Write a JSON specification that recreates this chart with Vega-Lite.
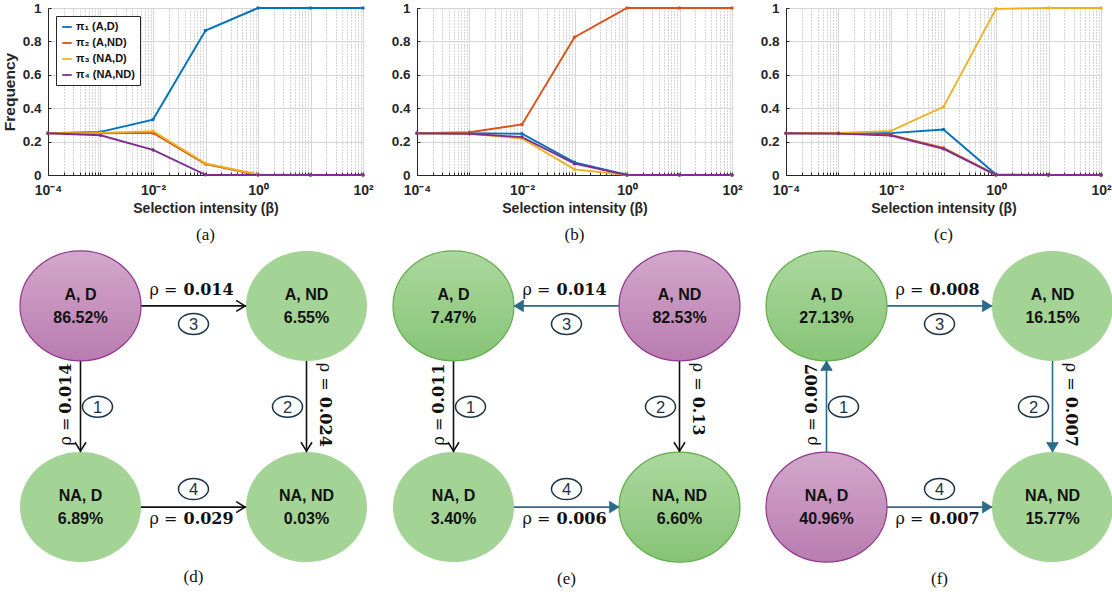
{
"$schema":"https://vega.github.io/schema/vega-lite/v6.json",
"background":"white",
"padding":{"left":2,"top":1,"right":2,"bottom":2},
"config":{"view":{"stroke":null},"font":"Liberation Sans"},
"datasets":{
"freq":[
{"p":"a","s":"π₁ (A,D)","b":0.0001,"f":0.25},{"p":"a","s":"π₁ (A,D)","b":0.001,"f":0.258},{"p":"a","s":"π₁ (A,D)","b":0.01,"f":0.332},{"p":"a","s":"π₁ (A,D)","b":0.1,"f":0.865},{"p":"a","s":"π₁ (A,D)","b":1,"f":1},{"p":"a","s":"π₁ (A,D)","b":10,"f":1},{"p":"a","s":"π₁ (A,D)","b":100,"f":1},
{"p":"a","s":"π₂ (A,ND)","b":0.0001,"f":0.25},{"p":"a","s":"π₂ (A,ND)","b":0.001,"f":0.25},{"p":"a","s":"π₂ (A,ND)","b":0.01,"f":0.252},{"p":"a","s":"π₂ (A,ND)","b":0.1,"f":0.066},{"p":"a","s":"π₂ (A,ND)","b":1,"f":0.001},{"p":"a","s":"π₂ (A,ND)","b":10,"f":0},{"p":"a","s":"π₂ (A,ND)","b":100,"f":0},
{"p":"a","s":"π₃ (NA,D)","b":0.0001,"f":0.25},{"p":"a","s":"π₃ (NA,D)","b":0.001,"f":0.252},{"p":"a","s":"π₃ (NA,D)","b":0.01,"f":0.262},{"p":"a","s":"π₃ (NA,D)","b":0.1,"f":0.07},{"p":"a","s":"π₃ (NA,D)","b":1,"f":0.003},{"p":"a","s":"π₃ (NA,D)","b":10,"f":0},{"p":"a","s":"π₃ (NA,D)","b":100,"f":0},
{"p":"a","s":"π₄ (NA,ND)","b":0.0001,"f":0.25},{"p":"a","s":"π₄ (NA,ND)","b":0.001,"f":0.238},{"p":"a","s":"π₄ (NA,ND)","b":0.01,"f":0.15},{"p":"a","s":"π₄ (NA,ND)","b":0.1,"f":0.001},{"p":"a","s":"π₄ (NA,ND)","b":1,"f":0},{"p":"a","s":"π₄ (NA,ND)","b":10,"f":0},{"p":"a","s":"π₄ (NA,ND)","b":100,"f":0},
{"p":"b","s":"π₁ (A,D)","b":0.0001,"f":0.25},{"p":"b","s":"π₁ (A,D)","b":0.001,"f":0.25},{"p":"b","s":"π₁ (A,D)","b":0.01,"f":0.247},{"p":"b","s":"π₁ (A,D)","b":0.1,"f":0.076},{"p":"b","s":"π₁ (A,D)","b":1,"f":0},{"p":"b","s":"π₁ (A,D)","b":10,"f":0},{"p":"b","s":"π₁ (A,D)","b":100,"f":0},
{"p":"b","s":"π₂ (A,ND)","b":0.0001,"f":0.25},{"p":"b","s":"π₂ (A,ND)","b":0.001,"f":0.256},{"p":"b","s":"π₂ (A,ND)","b":0.01,"f":0.303},{"p":"b","s":"π₂ (A,ND)","b":0.1,"f":0.825},{"p":"b","s":"π₂ (A,ND)","b":1,"f":1},{"p":"b","s":"π₂ (A,ND)","b":10,"f":1},{"p":"b","s":"π₂ (A,ND)","b":100,"f":1},
{"p":"b","s":"π₃ (NA,D)","b":0.0001,"f":0.25},{"p":"b","s":"π₃ (NA,D)","b":0.001,"f":0.247},{"p":"b","s":"π₃ (NA,D)","b":0.01,"f":0.219},{"p":"b","s":"π₃ (NA,D)","b":0.1,"f":0.034},{"p":"b","s":"π₃ (NA,D)","b":1,"f":0},{"p":"b","s":"π₃ (NA,D)","b":10,"f":0},{"p":"b","s":"π₃ (NA,D)","b":100,"f":0},
{"p":"b","s":"π₄ (NA,ND)","b":0.0001,"f":0.25},{"p":"b","s":"π₄ (NA,ND)","b":0.001,"f":0.247},{"p":"b","s":"π₄ (NA,ND)","b":0.01,"f":0.227},{"p":"b","s":"π₄ (NA,ND)","b":0.1,"f":0.068},{"p":"b","s":"π₄ (NA,ND)","b":1,"f":0},{"p":"b","s":"π₄ (NA,ND)","b":10,"f":0},{"p":"b","s":"π₄ (NA,ND)","b":100,"f":0},
{"p":"c","s":"π₁ (A,D)","b":0.0001,"f":0.25},{"p":"c","s":"π₁ (A,D)","b":0.001,"f":0.25},{"p":"c","s":"π₁ (A,D)","b":0.01,"f":0.251},{"p":"c","s":"π₁ (A,D)","b":0.1,"f":0.272},{"p":"c","s":"π₁ (A,D)","b":1,"f":0.003},{"p":"c","s":"π₁ (A,D)","b":10,"f":0},{"p":"c","s":"π₁ (A,D)","b":100,"f":0},
{"p":"c","s":"π₂ (A,ND)","b":0.0001,"f":0.25},{"p":"c","s":"π₂ (A,ND)","b":0.001,"f":0.25},{"p":"c","s":"π₂ (A,ND)","b":0.01,"f":0.24},{"p":"c","s":"π₂ (A,ND)","b":0.1,"f":0.162},{"p":"c","s":"π₂ (A,ND)","b":1,"f":0.001},{"p":"c","s":"π₂ (A,ND)","b":10,"f":0},{"p":"c","s":"π₂ (A,ND)","b":100,"f":0},
{"p":"c","s":"π₃ (NA,D)","b":0.0001,"f":0.25},{"p":"c","s":"π₃ (NA,D)","b":0.001,"f":0.252},{"p":"c","s":"π₃ (NA,D)","b":0.01,"f":0.264},{"p":"c","s":"π₃ (NA,D)","b":0.1,"f":0.408},{"p":"c","s":"π₃ (NA,D)","b":1,"f":0.995},{"p":"c","s":"π₃ (NA,D)","b":10,"f":1},{"p":"c","s":"π₃ (NA,D)","b":100,"f":1},
{"p":"c","s":"π₄ (NA,ND)","b":0.0001,"f":0.25},{"p":"c","s":"π₄ (NA,ND)","b":0.001,"f":0.248},{"p":"c","s":"π₄ (NA,ND)","b":0.01,"f":0.236},{"p":"c","s":"π₄ (NA,ND)","b":0.1,"f":0.157},{"p":"c","s":"π₄ (NA,ND)","b":1,"f":0},{"p":"c","s":"π₄ (NA,ND)","b":10,"f":0},{"p":"c","s":"π₄ (NA,ND)","b":100,"f":0}
],
"diag":[
{"panel":"d","kind":"node","state":"A, D","a":"A","d":"D","pct":0.8652,"tier":"top"},
{"panel":"d","kind":"node","state":"A, ND","a":"A","d":"ND","pct":0.0655,"tier":"low"},
{"panel":"d","kind":"node","state":"NA, D","a":"NA","d":"D","pct":0.0689,"tier":"low"},
{"panel":"d","kind":"node","state":"NA, ND","a":"NA","d":"ND","pct":0.0003,"tier":"low"},
{"panel":"d","kind":"edge","edge":1,"sa":"A","sd":"D","ta":"NA","td":"D","rho":"0.014","tone":"black"},
{"panel":"d","kind":"edge","edge":2,"sa":"A","sd":"ND","ta":"NA","td":"ND","rho":"0.024","tone":"black"},
{"panel":"d","kind":"edge","edge":3,"sa":"A","sd":"D","ta":"A","td":"ND","rho":"0.014","tone":"black"},
{"panel":"d","kind":"edge","edge":4,"sa":"NA","sd":"D","ta":"NA","td":"ND","rho":"0.029","tone":"black"},
{"panel":"e","kind":"node","state":"A, D","a":"A","d":"D","pct":0.0747,"tier":"mid"},
{"panel":"e","kind":"node","state":"A, ND","a":"A","d":"ND","pct":0.8253,"tier":"top"},
{"panel":"e","kind":"node","state":"NA, D","a":"NA","d":"D","pct":0.034,"tier":"low"},
{"panel":"e","kind":"node","state":"NA, ND","a":"NA","d":"ND","pct":0.066,"tier":"mid"},
{"panel":"e","kind":"edge","edge":1,"sa":"A","sd":"D","ta":"NA","td":"D","rho":"0.011","tone":"black"},
{"panel":"e","kind":"edge","edge":2,"sa":"A","sd":"ND","ta":"NA","td":"ND","rho":"0.13","tone":"black"},
{"panel":"e","kind":"edge","edge":3,"sa":"A","sd":"ND","ta":"A","td":"D","rho":"0.014","tone":"blue"},
{"panel":"e","kind":"edge","edge":4,"sa":"NA","sd":"D","ta":"NA","td":"ND","rho":"0.006","tone":"blue"},
{"panel":"f","kind":"node","state":"A, D","a":"A","d":"D","pct":0.2713,"tier":"mid"},
{"panel":"f","kind":"node","state":"A, ND","a":"A","d":"ND","pct":0.1615,"tier":"low"},
{"panel":"f","kind":"node","state":"NA, D","a":"NA","d":"D","pct":0.4096,"tier":"top"},
{"panel":"f","kind":"node","state":"NA, ND","a":"NA","d":"ND","pct":0.1577,"tier":"low"},
{"panel":"f","kind":"edge","edge":1,"sa":"NA","sd":"D","ta":"A","td":"D","rho":"0.007","tone":"blue"},
{"panel":"f","kind":"edge","edge":2,"sa":"A","sd":"ND","ta":"NA","td":"ND","rho":"0.007","tone":"blue"},
{"panel":"f","kind":"edge","edge":3,"sa":"A","sd":"D","ta":"A","td":"ND","rho":"0.008","tone":"blue"},
{"panel":"f","kind":"edge","edge":4,"sa":"NA","sd":"D","ta":"NA","td":"ND","rho":"0.007","tone":"blue"}
]
},
"columns":3,
"spacing":{"row":76,"column":54},
"bounds":"flush",
"resolve":{"scale":{"color":"independent","stroke":"independent","fill":"independent","x":"independent","y":"independent"},"legend":{"color":"independent"}},
"concat":[
{"width":315,"height":167,"data":{"name":"freq"},"transform":[{"filter":"datum.p=='a'"}],
"title":{"text":"(a)","orient":"bottom","font":"Liberation Serif","fontSize":17,"fontWeight":"normal","color":"#111111","offset":12},
"mark":{"type":"line","strokeWidth":1.9,"point":{"filled":true,"size":12}},
"encoding":{
"x":{"field":"b","type":"quantitative","scale":{"type":"log","domain":[0.0001,100],"nice":false},"axis":{"values":[0.0001,0.0002,0.0003,0.0004,0.0005,0.0006,0.0007,0.0008,0.0009,0.001,0.002,0.003,0.004,0.005,0.006,0.007,0.008,0.009,0.01,0.02,0.03,0.04,0.05,0.06,0.07,0.08,0.09,0.1,0.2,0.3,0.4,0.5,0.6,0.7,0.8,0.9,1,2,3,4,5,6,7,8,9,10,20,30,40,50,60,70,80,90,100],"labelExpr":"datum.value == 0.0001 ? '10⁻⁴' : datum.value == 0.01 ? '10⁻²' : datum.value == 1 ? '10⁰' : datum.value == 100 ? '10²' : ''","labelOverlap":false,"labelFlush":false,"title":"Selection intensity (β)","grid":true,"gridColor":{"condition":{"test":"indexof([0.0001,0.001,0.01,0.1,1,10,100], datum.value) >= 0","value":"#d6d6d6"},"value":"#acacac"},"gridDash":{"condition":{"test":"indexof([0.0001,0.001,0.01,0.1,1,10,100], datum.value) >= 0","value":[]},"value":[1,2]},"tickSize":-3,"tickColor":"#262626","domainColor":"#262626","labelFont":"Liberation Sans","labelFontSize":14,"labelFontWeight":"bold","labelColor":"#262626","labelPadding":11,"titleFont":"Liberation Sans","titleFontSize":14,"titleFontWeight":"bold","titleColor":"#262626","titlePadding":4}},
"y":{"field":"f","type":"quantitative","scale":{"domain":[0,1],"nice":false},"axis":{"values":[0,0.2,0.4,0.6,0.8,1],"format":"~g","title":"Frequency","grid":true,"gridColor":"#d6d6d6","tickSize":-3,"tickColor":"#262626","domainColor":"#262626","labelFont":"Liberation Sans","labelFontSize":13.5,"labelFontWeight":"bold","labelColor":"#262626","labelPadding":10,"titleFont":"Liberation Sans","titleFontSize":15.5,"titleFontWeight":"bold","titleColor":"#262626","titlePadding":5}},
"color":{"field":"s","type":"nominal","scale":{"domain":["π₁ (A,D)","π₂ (A,ND)","π₃ (NA,D)","π₄ (NA,ND)"],"range":["#0072BD","#D95319","#EDB120","#7E2F8E"]},"legend":{"orient":"top-left","offset":8,"title":null,"fillColor":"white","strokeColor":"#262626","padding":5,"labelFont":"Liberation Sans","labelFontSize":11,"labelFontWeight":"bold","labelColor":"#111111","symbolType":"stroke","symbolStrokeWidth":1.8,"symbolSize":90,"rowPadding":5,"labelOffset":3,"cornerRadius":0}}}},
{"width":315,"height":167,"data":{"name":"freq"},"transform":[{"filter":"datum.p=='b'"}],
"title":{"text":"(b)","orient":"bottom","font":"Liberation Serif","fontSize":17,"fontWeight":"normal","color":"#111111","offset":12},
"mark":{"type":"line","strokeWidth":1.9,"point":{"filled":true,"size":12}},
"encoding":{
"x":{"field":"b","type":"quantitative","scale":{"type":"log","domain":[0.0001,100],"nice":false},"axis":{"values":[0.0001,0.0002,0.0003,0.0004,0.0005,0.0006,0.0007,0.0008,0.0009,0.001,0.002,0.003,0.004,0.005,0.006,0.007,0.008,0.009,0.01,0.02,0.03,0.04,0.05,0.06,0.07,0.08,0.09,0.1,0.2,0.3,0.4,0.5,0.6,0.7,0.8,0.9,1,2,3,4,5,6,7,8,9,10,20,30,40,50,60,70,80,90,100],"labelExpr":"datum.value == 0.0001 ? '10⁻⁴' : datum.value == 0.01 ? '10⁻²' : datum.value == 1 ? '10⁰' : datum.value == 100 ? '10²' : ''","labelOverlap":false,"labelFlush":false,"title":"Selection intensity (β)","grid":true,"gridColor":{"condition":{"test":"indexof([0.0001,0.001,0.01,0.1,1,10,100], datum.value) >= 0","value":"#d6d6d6"},"value":"#acacac"},"gridDash":{"condition":{"test":"indexof([0.0001,0.001,0.01,0.1,1,10,100], datum.value) >= 0","value":[]},"value":[1,2]},"tickSize":-3,"tickColor":"#262626","domainColor":"#262626","labelFont":"Liberation Sans","labelFontSize":14,"labelFontWeight":"bold","labelColor":"#262626","labelPadding":11,"titleFont":"Liberation Sans","titleFontSize":14,"titleFontWeight":"bold","titleColor":"#262626","titlePadding":4}},
"y":{"field":"f","type":"quantitative","scale":{"domain":[0,1],"nice":false},"axis":{"values":[0,0.2,0.4,0.6,0.8,1],"format":"~g","title":null,"grid":true,"gridColor":"#d6d6d6","tickSize":-3,"tickColor":"#262626","domainColor":"#262626","labelFont":"Liberation Sans","labelFontSize":13.5,"labelFontWeight":"bold","labelColor":"#262626","labelPadding":10}},
"color":{"field":"s","type":"nominal","scale":{"domain":["π₁ (A,D)","π₂ (A,ND)","π₃ (NA,D)","π₄ (NA,ND)"],"range":["#0072BD","#D95319","#EDB120","#7E2F8E"]},"legend":null}}},
{"width":315,"height":167,"data":{"name":"freq"},"transform":[{"filter":"datum.p=='c'"}],
"title":{"text":"(c)","orient":"bottom","font":"Liberation Serif","fontSize":17,"fontWeight":"normal","color":"#111111","offset":12},
"mark":{"type":"line","strokeWidth":1.9,"point":{"filled":true,"size":12}},
"encoding":{
"x":{"field":"b","type":"quantitative","scale":{"type":"log","domain":[0.0001,100],"nice":false},"axis":{"values":[0.0001,0.0002,0.0003,0.0004,0.0005,0.0006,0.0007,0.0008,0.0009,0.001,0.002,0.003,0.004,0.005,0.006,0.007,0.008,0.009,0.01,0.02,0.03,0.04,0.05,0.06,0.07,0.08,0.09,0.1,0.2,0.3,0.4,0.5,0.6,0.7,0.8,0.9,1,2,3,4,5,6,7,8,9,10,20,30,40,50,60,70,80,90,100],"labelExpr":"datum.value == 0.0001 ? '10⁻⁴' : datum.value == 0.01 ? '10⁻²' : datum.value == 1 ? '10⁰' : datum.value == 100 ? '10²' : ''","labelOverlap":false,"labelFlush":false,"title":"Selection intensity (β)","grid":true,"gridColor":{"condition":{"test":"indexof([0.0001,0.001,0.01,0.1,1,10,100], datum.value) >= 0","value":"#d6d6d6"},"value":"#acacac"},"gridDash":{"condition":{"test":"indexof([0.0001,0.001,0.01,0.1,1,10,100], datum.value) >= 0","value":[]},"value":[1,2]},"tickSize":-3,"tickColor":"#262626","domainColor":"#262626","labelFont":"Liberation Sans","labelFontSize":14,"labelFontWeight":"bold","labelColor":"#262626","labelPadding":11,"titleFont":"Liberation Sans","titleFontSize":14,"titleFontWeight":"bold","titleColor":"#262626","titlePadding":4}},
"y":{"field":"f","type":"quantitative","scale":{"domain":[0,1],"nice":false},"axis":{"values":[0,0.2,0.4,0.6,0.8,1],"format":"~g","title":null,"grid":true,"gridColor":"#d6d6d6","tickSize":-3,"tickColor":"#262626","domainColor":"#262626","labelFont":"Liberation Sans","labelFontSize":13.5,"labelFontWeight":"bold","labelColor":"#262626","labelPadding":10}},
"color":{"field":"s","type":"nominal","scale":{"domain":["π₁ (A,D)","π₂ (A,ND)","π₃ (NA,D)","π₄ (NA,ND)"],"range":["#0072BD","#D95319","#EDB120","#7E2F8E"]},"legend":null}}},

{"width":291,"height":311,"data":{"name":"diag"},"transform":[{"filter":"datum.panel=='d'"}],
"title":{"text":"(d)","orient":"bottom","font":"Liberation Serif","fontSize":17,"fontWeight":"normal","color":"#111111","offset":7},
"layer":[
{"transform":[{"filter":"datum.kind=='edge'"}],"mark":{"type":"rule","strokeWidth":1.6},"encoding":{"x":{"field":"sd","type":"nominal","scale":{"type":"point","domain":["D","ND"],"padding":0.1438},"axis":null},"x2":{"field":"td"},"y":{"field":"sa","type":"nominal","scale":{"type":"point","domain":["A","NA"],"padding":0.273},"axis":null},"y2":{"field":"ta"},"color":{"field":"tone","type":"nominal","scale":{"domain":["black","blue"],"range":["#111111","#2a6b89"]},"legend":null}}},
{"transform":[{"filter":"datum.kind=='node' && datum.tier=='top'"}],"mark":{"type":"point","shape":"M 1 0 C 1 0.502 0.552 0.909 0 0.909 C -0.552 0.909 -1 0.502 -1 0 C -1 -0.502 -0.552 -0.909 0 -0.909 C 0.552 -0.909 1 -0.502 1 0 Z","size":14641,"filled":true,"opacity":1,"fill":{"gradient":"linear","x1":0,"y1":0,"x2":0,"y2":1,"stops":[{"offset":0,"color":"#d3a8cb"},{"offset":1,"color":"#b97cb0"}]},"stroke":"#90378d","strokeWidth":1.2},"encoding":{"x":{"field":"d","type":"nominal","axis":null},"y":{"field":"a","type":"nominal","axis":null}}},
{"transform":[{"filter":"datum.kind=='node' && datum.tier=='mid'"}],"mark":{"type":"point","shape":"M 1 0 C 1 0.502 0.552 0.909 0 0.909 C -0.552 0.909 -1 0.502 -1 0 C -1 -0.502 -0.552 -0.909 0 -0.909 C 0.552 -0.909 1 -0.502 1 0 Z","size":14641,"filled":true,"opacity":1,"fill":{"gradient":"linear","x1":0,"y1":0,"x2":0,"y2":1,"stops":[{"offset":0,"color":"#acd89e"},{"offset":1,"color":"#86c476"}]},"stroke":"#62ac4b","strokeWidth":1.2},"encoding":{"x":{"field":"d","type":"nominal","axis":null},"y":{"field":"a","type":"nominal","axis":null}}},
{"transform":[{"filter":"datum.kind=='node' && datum.tier=='low'"}],"mark":{"type":"point","shape":"M 1 0 C 1 0.502 0.552 0.909 0 0.909 C -0.552 0.909 -1 0.502 -1 0 C -1 -0.502 -0.552 -0.909 0 -0.909 C 0.552 -0.909 1 -0.502 1 0 Z","size":14641,"filled":true,"opacity":1,"fill":"#a4d396","strokeWidth":0},"encoding":{"x":{"field":"d","type":"nominal","axis":null},"y":{"field":"a","type":"nominal","axis":null}}},
{"transform":[{"filter":"datum.kind=='node'"}],"mark":{"type":"text","font":"Liberation Sans","fontSize":16,"fontWeight":"bold","color":"#111111","baseline":"middle","yOffset":-11},"encoding":{"x":{"field":"d","type":"nominal","axis":null},"y":{"field":"a","type":"nominal","axis":null},"text":{"field":"state"}}},
{"transform":[{"filter":"datum.kind=='node'"}],"mark":{"type":"text","font":"Liberation Sans","fontSize":16,"fontWeight":"bold","color":"#111111","baseline":"middle","yOffset":12},"encoding":{"x":{"field":"d","type":"nominal","axis":null},"y":{"field":"a","type":"nominal","axis":null},"text":{"field":"pct","type":"quantitative","format":".2%"}}},
{"transform":[{"filter":"datum.kind=='edge' && datum.sd=='D' && datum.td=='ND'"}],"mark":{"type":"point","shape":"M -1.6 -1 L 0 0 L -1.6 1","size":121,"filled":true,"opacity":1,"strokeWidth":1.6,"xOffset":-61.5},"encoding":{"x":{"field":"td","type":"nominal","axis":null},"y":{"field":"ta","type":"nominal","axis":null},"stroke":{"field":"tone","type":"nominal","scale":{"domain":["black","blue"],"range":["#111111","#2a6b89"]},"legend":null},"fill":{"field":"tone","type":"nominal","scale":{"domain":["black","blue"],"range":["transparent","#2a6b89"]},"legend":null}}},
{"transform":[{"filter":"datum.kind=='edge' && datum.sd=='ND' && datum.td=='D'"}],"mark":{"type":"point","shape":"M 1.6 -1 L 0 0 L 1.6 1","size":121,"filled":true,"opacity":1,"strokeWidth":1.6,"xOffset":61.5},"encoding":{"x":{"field":"td","type":"nominal","axis":null},"y":{"field":"ta","type":"nominal","axis":null},"stroke":{"field":"tone","type":"nominal","legend":null},"fill":{"field":"tone","type":"nominal","legend":null}}},
{"transform":[{"filter":"datum.kind=='edge' && datum.sa=='A' && datum.ta=='NA'"}],"mark":{"type":"point","shape":"M -1 -1.6 L 0 0 L 1 -1.6","size":121,"filled":true,"opacity":1,"strokeWidth":1.6,"yOffset":-56},"encoding":{"x":{"field":"td","type":"nominal","axis":null},"y":{"field":"ta","type":"nominal","axis":null},"stroke":{"field":"tone","type":"nominal","legend":null},"fill":{"field":"tone","type":"nominal","legend":null}}},
{"transform":[{"filter":"datum.kind=='edge' && datum.sa=='NA' && datum.ta=='A'"}],"mark":{"type":"point","shape":"M -1 1.6 L 0 0 L 1 1.6","size":121,"filled":true,"opacity":1,"strokeWidth":1.6,"yOffset":56},"encoding":{"x":{"field":"td","type":"nominal","axis":null},"y":{"field":"ta","type":"nominal","axis":null},"stroke":{"field":"tone","type":"nominal","legend":null},"fill":{"field":"tone","type":"nominal","legend":null}}},
{"transform":[{"filter":"datum.kind=='edge' && datum.edge==3"}],"mark":{"type":"text","text":"ρ =","font":"DejaVu Serif","fontSize":16,"color":"#111111","align":"right","baseline":"middle","xOffset":97,"yOffset":-16},"encoding":{"x":{"datum":"D","type":"nominal","axis":null},"y":{"field":"sa","type":"nominal","axis":null}}},
{"transform":[{"filter":"datum.kind=='edge' && datum.edge==3"}],"mark":{"type":"text","font":"DejaVu Serif","fontSize":16,"fontWeight":"bold","color":"#111111","align":"left","baseline":"middle","xOffset":103,"yOffset":-16},"encoding":{"x":{"datum":"D","type":"nominal","axis":null},"y":{"field":"sa","type":"nominal","axis":null},"text":{"field":"rho"}}},
{"transform":[{"filter":"datum.kind=='edge' && datum.edge==3"}],"mark":{"type":"point","shape":"M 1 0 C 1 0.387 0.552 0.7 0 0.7 C -0.552 0.7 -1 0.387 -1 0 C -1 -0.387 -0.552 -0.7 0 -0.7 C 0.552 -0.7 1 -0.387 1 0 Z","size":900,"filled":true,"opacity":1,"fill":"white","stroke":"#1d3344","strokeWidth":1.5,"xOffset":113,"yOffset":18},"encoding":{"x":{"datum":"D","type":"nominal","axis":null},"y":{"field":"sa","type":"nominal","axis":null}}},
{"transform":[{"filter":"datum.kind=='edge' && datum.edge==3"}],"mark":{"type":"text","font":"Liberation Sans","fontSize":16.5,"color":"#1d3344","align":"center","baseline":"middle","xOffset":113,"yOffset":19},"encoding":{"x":{"datum":"D","type":"nominal","axis":null},"y":{"field":"sa","type":"nominal","axis":null},"text":{"field":"edge","type":"nominal"}}},
{"transform":[{"filter":"datum.kind=='edge' && datum.edge==4"}],"mark":{"type":"text","text":"ρ =","font":"DejaVu Serif","fontSize":16,"color":"#111111","align":"right","baseline":"middle","xOffset":97,"yOffset":12},"encoding":{"x":{"datum":"D","type":"nominal","axis":null},"y":{"field":"sa","type":"nominal","axis":null}}},
{"transform":[{"filter":"datum.kind=='edge' && datum.edge==4"}],"mark":{"type":"text","font":"DejaVu Serif","fontSize":16,"fontWeight":"bold","color":"#111111","align":"left","baseline":"middle","xOffset":103,"yOffset":12},"encoding":{"x":{"datum":"D","type":"nominal","axis":null},"y":{"field":"sa","type":"nominal","axis":null},"text":{"field":"rho"}}},
{"transform":[{"filter":"datum.kind=='edge' && datum.edge==4"}],"mark":{"type":"point","shape":"M 1 0 C 1 0.387 0.552 0.7 0 0.7 C -0.552 0.7 -1 0.387 -1 0 C -1 -0.387 -0.552 -0.7 0 -0.7 C 0.552 -0.7 1 -0.387 1 0 Z","size":900,"filled":true,"opacity":1,"fill":"white","stroke":"#1d3344","strokeWidth":1.5,"xOffset":113,"yOffset":-18},"encoding":{"x":{"datum":"D","type":"nominal","axis":null},"y":{"field":"sa","type":"nominal","axis":null}}},
{"transform":[{"filter":"datum.kind=='edge' && datum.edge==4"}],"mark":{"type":"text","font":"Liberation Sans","fontSize":16.5,"color":"#1d3344","align":"center","baseline":"middle","xOffset":113,"yOffset":-17},"encoding":{"x":{"datum":"D","type":"nominal","axis":null},"y":{"field":"sa","type":"nominal","axis":null},"text":{"field":"edge","type":"nominal"}}},
{"transform":[{"filter":"datum.kind=='edge' && datum.edge==1"}],"mark":{"type":"text","text":"ρ =","font":"DejaVu Serif","fontSize":16,"color":"#111111","align":"right","baseline":"middle","angle":270,"xOffset":-14,"yOffset":111.75},"encoding":{"x":{"field":"sd","type":"nominal","axis":null},"y":{"datum":"A","type":"nominal","axis":null}}},
{"transform":[{"filter":"datum.kind=='edge' && datum.edge==1"}],"mark":{"type":"text","font":"DejaVu Serif","fontSize":16,"fontWeight":"bold","color":"#111111","align":"left","baseline":"middle","angle":270,"xOffset":-14,"yOffset":107.75},"encoding":{"x":{"field":"sd","type":"nominal","axis":null},"y":{"datum":"A","type":"nominal","axis":null},"text":{"field":"rho"}}},
{"transform":[{"filter":"datum.kind=='edge' && datum.edge==1"}],"mark":{"type":"point","shape":"M 1 0 C 1 0.387 0.552 0.7 0 0.7 C -0.552 0.7 -1 0.387 -1 0 C -1 -0.387 -0.552 -0.7 0 -0.7 C 0.552 -0.7 1 -0.387 1 0 Z","size":900,"filled":true,"opacity":1,"fill":"white","stroke":"#1d3344","strokeWidth":1.5,"xOffset":17,"yOffset":100.75},"encoding":{"x":{"field":"sd","type":"nominal","axis":null},"y":{"datum":"A","type":"nominal","axis":null}}},
{"transform":[{"filter":"datum.kind=='edge' && datum.edge==1"}],"mark":{"type":"text","font":"Liberation Sans","fontSize":16.5,"color":"#1d3344","align":"center","baseline":"middle","xOffset":17,"yOffset":101.75},"encoding":{"x":{"field":"sd","type":"nominal","axis":null},"y":{"datum":"A","type":"nominal","axis":null},"text":{"field":"edge","type":"nominal"}}},
{"transform":[{"filter":"datum.kind=='edge' && datum.edge==2"}],"mark":{"type":"text","text":"ρ =","font":"DejaVu Serif","fontSize":16,"color":"#111111","align":"right","baseline":"middle","angle":90,"xOffset":18,"yOffset":84.75},"encoding":{"x":{"field":"sd","type":"nominal","axis":null},"y":{"datum":"A","type":"nominal","axis":null}}},
{"transform":[{"filter":"datum.kind=='edge' && datum.edge==2"}],"mark":{"type":"text","font":"DejaVu Serif","fontSize":16,"fontWeight":"bold","color":"#111111","align":"left","baseline":"middle","angle":90,"xOffset":18,"yOffset":90.75},"encoding":{"x":{"field":"sd","type":"nominal","axis":null},"y":{"datum":"A","type":"nominal","axis":null},"text":{"field":"rho"}}},
{"transform":[{"filter":"datum.kind=='edge' && datum.edge==2"}],"mark":{"type":"point","shape":"M 1 0 C 1 0.387 0.552 0.7 0 0.7 C -0.552 0.7 -1 0.387 -1 0 C -1 -0.387 -0.552 -0.7 0 -0.7 C 0.552 -0.7 1 -0.387 1 0 Z","size":900,"filled":true,"opacity":1,"fill":"white","stroke":"#1d3344","strokeWidth":1.5,"xOffset":-19,"yOffset":100.75},"encoding":{"x":{"field":"sd","type":"nominal","axis":null},"y":{"datum":"A","type":"nominal","axis":null}}},
{"transform":[{"filter":"datum.kind=='edge' && datum.edge==2"}],"mark":{"type":"text","font":"Liberation Sans","fontSize":16.5,"color":"#1d3344","align":"center","baseline":"middle","xOffset":-19,"yOffset":101.75},"encoding":{"x":{"field":"sd","type":"nominal","axis":null},"y":{"datum":"A","type":"nominal","axis":null},"text":{"field":"edge","type":"nominal"}}}
]},

{"width":299,"height":311,"data":{"name":"diag"},"transform":[{"filter":"datum.panel=='e'"}],
"title":{"text":"(e)","orient":"bottom","font":"Liberation Serif","fontSize":17,"fontWeight":"normal","color":"#111111","offset":7},
"layer":[
{"transform":[{"filter":"datum.kind=='edge'"}],"mark":{"type":"rule","strokeWidth":1.6},"encoding":{"x":{"field":"sd","type":"nominal","scale":{"type":"point","domain":["D","ND"],"padding":0.1615},"axis":null},"x2":{"field":"td"},"y":{"field":"sa","type":"nominal","scale":{"type":"point","domain":["A","NA"],"padding":0.273},"axis":null},"y2":{"field":"ta"},"color":{"field":"tone","type":"nominal","scale":{"domain":["black","blue"],"range":["#111111","#2a6b89"]},"legend":null}}},
{"transform":[{"filter":"datum.kind=='node' && datum.tier=='top'"}],"mark":{"type":"point","shape":"M 1 0 C 1 0.502 0.552 0.909 0 0.909 C -0.552 0.909 -1 0.502 -1 0 C -1 -0.502 -0.552 -0.909 0 -0.909 C 0.552 -0.909 1 -0.502 1 0 Z","size":14641,"filled":true,"opacity":1,"fill":{"gradient":"linear","x1":0,"y1":0,"x2":0,"y2":1,"stops":[{"offset":0,"color":"#d3a8cb"},{"offset":1,"color":"#b97cb0"}]},"stroke":"#90378d","strokeWidth":1.2},"encoding":{"x":{"field":"d","type":"nominal","axis":null},"y":{"field":"a","type":"nominal","axis":null}}},
{"transform":[{"filter":"datum.kind=='node' && datum.tier=='mid'"}],"mark":{"type":"point","shape":"M 1 0 C 1 0.502 0.552 0.909 0 0.909 C -0.552 0.909 -1 0.502 -1 0 C -1 -0.502 -0.552 -0.909 0 -0.909 C 0.552 -0.909 1 -0.502 1 0 Z","size":14641,"filled":true,"opacity":1,"fill":{"gradient":"linear","x1":0,"y1":0,"x2":0,"y2":1,"stops":[{"offset":0,"color":"#acd89e"},{"offset":1,"color":"#86c476"}]},"stroke":"#62ac4b","strokeWidth":1.2},"encoding":{"x":{"field":"d","type":"nominal","axis":null},"y":{"field":"a","type":"nominal","axis":null}}},
{"transform":[{"filter":"datum.kind=='node' && datum.tier=='low'"}],"mark":{"type":"point","shape":"M 1 0 C 1 0.502 0.552 0.909 0 0.909 C -0.552 0.909 -1 0.502 -1 0 C -1 -0.502 -0.552 -0.909 0 -0.909 C 0.552 -0.909 1 -0.502 1 0 Z","size":14641,"filled":true,"opacity":1,"fill":"#a4d396","strokeWidth":0},"encoding":{"x":{"field":"d","type":"nominal","axis":null},"y":{"field":"a","type":"nominal","axis":null}}},
{"transform":[{"filter":"datum.kind=='node'"}],"mark":{"type":"text","font":"Liberation Sans","fontSize":16,"fontWeight":"bold","color":"#111111","baseline":"middle","yOffset":-11},"encoding":{"x":{"field":"d","type":"nominal","axis":null},"y":{"field":"a","type":"nominal","axis":null},"text":{"field":"state"}}},
{"transform":[{"filter":"datum.kind=='node'"}],"mark":{"type":"text","font":"Liberation Sans","fontSize":16,"fontWeight":"bold","color":"#111111","baseline":"middle","yOffset":12},"encoding":{"x":{"field":"d","type":"nominal","axis":null},"y":{"field":"a","type":"nominal","axis":null},"text":{"field":"pct","type":"quantitative","format":".2%"}}},
{"transform":[{"filter":"datum.kind=='edge' && datum.sd=='D' && datum.td=='ND'"}],"mark":{"type":"point","shape":"M -1.6 -1 L 0 0 L -1.6 1","size":121,"filled":true,"opacity":1,"strokeWidth":1.6,"xOffset":-61.5},"encoding":{"x":{"field":"td","type":"nominal","axis":null},"y":{"field":"ta","type":"nominal","axis":null},"stroke":{"field":"tone","type":"nominal","scale":{"domain":["black","blue"],"range":["#111111","#2a6b89"]},"legend":null},"fill":{"field":"tone","type":"nominal","scale":{"domain":["black","blue"],"range":["transparent","#2a6b89"]},"legend":null}}},
{"transform":[{"filter":"datum.kind=='edge' && datum.sd=='ND' && datum.td=='D'"}],"mark":{"type":"point","shape":"M 1.6 -1 L 0 0 L 1.6 1","size":121,"filled":true,"opacity":1,"strokeWidth":1.6,"xOffset":61.5},"encoding":{"x":{"field":"td","type":"nominal","axis":null},"y":{"field":"ta","type":"nominal","axis":null},"stroke":{"field":"tone","type":"nominal","legend":null},"fill":{"field":"tone","type":"nominal","legend":null}}},
{"transform":[{"filter":"datum.kind=='edge' && datum.sa=='A' && datum.ta=='NA'"}],"mark":{"type":"point","shape":"M -1 -1.6 L 0 0 L 1 -1.6","size":121,"filled":true,"opacity":1,"strokeWidth":1.6,"yOffset":-56},"encoding":{"x":{"field":"td","type":"nominal","axis":null},"y":{"field":"ta","type":"nominal","axis":null},"stroke":{"field":"tone","type":"nominal","legend":null},"fill":{"field":"tone","type":"nominal","legend":null}}},
{"transform":[{"filter":"datum.kind=='edge' && datum.sa=='NA' && datum.ta=='A'"}],"mark":{"type":"point","shape":"M -1 1.6 L 0 0 L 1 1.6","size":121,"filled":true,"opacity":1,"strokeWidth":1.6,"yOffset":56},"encoding":{"x":{"field":"td","type":"nominal","axis":null},"y":{"field":"ta","type":"nominal","axis":null},"stroke":{"field":"tone","type":"nominal","legend":null},"fill":{"field":"tone","type":"nominal","legend":null}}},
{"transform":[{"filter":"datum.kind=='edge' && datum.edge==3"}],"mark":{"type":"text","text":"ρ =","font":"DejaVu Serif","fontSize":16,"color":"#111111","align":"right","baseline":"middle","xOffset":97,"yOffset":-16},"encoding":{"x":{"datum":"D","type":"nominal","axis":null},"y":{"field":"sa","type":"nominal","axis":null}}},
{"transform":[{"filter":"datum.kind=='edge' && datum.edge==3"}],"mark":{"type":"text","font":"DejaVu Serif","fontSize":16,"fontWeight":"bold","color":"#111111","align":"left","baseline":"middle","xOffset":103,"yOffset":-16},"encoding":{"x":{"datum":"D","type":"nominal","axis":null},"y":{"field":"sa","type":"nominal","axis":null},"text":{"field":"rho"}}},
{"transform":[{"filter":"datum.kind=='edge' && datum.edge==3"}],"mark":{"type":"point","shape":"M 1 0 C 1 0.387 0.552 0.7 0 0.7 C -0.552 0.7 -1 0.387 -1 0 C -1 -0.387 -0.552 -0.7 0 -0.7 C 0.552 -0.7 1 -0.387 1 0 Z","size":900,"filled":true,"opacity":1,"fill":"white","stroke":"#1d3344","strokeWidth":1.5,"xOffset":113,"yOffset":18},"encoding":{"x":{"datum":"D","type":"nominal","axis":null},"y":{"field":"sa","type":"nominal","axis":null}}},
{"transform":[{"filter":"datum.kind=='edge' && datum.edge==3"}],"mark":{"type":"text","font":"Liberation Sans","fontSize":16.5,"color":"#1d3344","align":"center","baseline":"middle","xOffset":113,"yOffset":19},"encoding":{"x":{"datum":"D","type":"nominal","axis":null},"y":{"field":"sa","type":"nominal","axis":null},"text":{"field":"edge","type":"nominal"}}},
{"transform":[{"filter":"datum.kind=='edge' && datum.edge==4"}],"mark":{"type":"text","text":"ρ =","font":"DejaVu Serif","fontSize":16,"color":"#111111","align":"right","baseline":"middle","xOffset":97,"yOffset":12},"encoding":{"x":{"datum":"D","type":"nominal","axis":null},"y":{"field":"sa","type":"nominal","axis":null}}},
{"transform":[{"filter":"datum.kind=='edge' && datum.edge==4"}],"mark":{"type":"text","font":"DejaVu Serif","fontSize":16,"fontWeight":"bold","color":"#111111","align":"left","baseline":"middle","xOffset":103,"yOffset":12},"encoding":{"x":{"datum":"D","type":"nominal","axis":null},"y":{"field":"sa","type":"nominal","axis":null},"text":{"field":"rho"}}},
{"transform":[{"filter":"datum.kind=='edge' && datum.edge==4"}],"mark":{"type":"point","shape":"M 1 0 C 1 0.387 0.552 0.7 0 0.7 C -0.552 0.7 -1 0.387 -1 0 C -1 -0.387 -0.552 -0.7 0 -0.7 C 0.552 -0.7 1 -0.387 1 0 Z","size":900,"filled":true,"opacity":1,"fill":"white","stroke":"#1d3344","strokeWidth":1.5,"xOffset":113,"yOffset":-18},"encoding":{"x":{"datum":"D","type":"nominal","axis":null},"y":{"field":"sa","type":"nominal","axis":null}}},
{"transform":[{"filter":"datum.kind=='edge' && datum.edge==4"}],"mark":{"type":"text","font":"Liberation Sans","fontSize":16.5,"color":"#1d3344","align":"center","baseline":"middle","xOffset":113,"yOffset":-17},"encoding":{"x":{"datum":"D","type":"nominal","axis":null},"y":{"field":"sa","type":"nominal","axis":null},"text":{"field":"edge","type":"nominal"}}},
{"transform":[{"filter":"datum.kind=='edge' && datum.edge==1"}],"mark":{"type":"text","text":"ρ =","font":"DejaVu Serif","fontSize":16,"color":"#111111","align":"right","baseline":"middle","angle":270,"xOffset":-14,"yOffset":111.75},"encoding":{"x":{"field":"sd","type":"nominal","axis":null},"y":{"datum":"A","type":"nominal","axis":null}}},
{"transform":[{"filter":"datum.kind=='edge' && datum.edge==1"}],"mark":{"type":"text","font":"DejaVu Serif","fontSize":16,"fontWeight":"bold","color":"#111111","align":"left","baseline":"middle","angle":270,"xOffset":-14,"yOffset":107.75},"encoding":{"x":{"field":"sd","type":"nominal","axis":null},"y":{"datum":"A","type":"nominal","axis":null},"text":{"field":"rho"}}},
{"transform":[{"filter":"datum.kind=='edge' && datum.edge==1"}],"mark":{"type":"point","shape":"M 1 0 C 1 0.387 0.552 0.7 0 0.7 C -0.552 0.7 -1 0.387 -1 0 C -1 -0.387 -0.552 -0.7 0 -0.7 C 0.552 -0.7 1 -0.387 1 0 Z","size":900,"filled":true,"opacity":1,"fill":"white","stroke":"#1d3344","strokeWidth":1.5,"xOffset":17,"yOffset":100.75},"encoding":{"x":{"field":"sd","type":"nominal","axis":null},"y":{"datum":"A","type":"nominal","axis":null}}},
{"transform":[{"filter":"datum.kind=='edge' && datum.edge==1"}],"mark":{"type":"text","font":"Liberation Sans","fontSize":16.5,"color":"#1d3344","align":"center","baseline":"middle","xOffset":17,"yOffset":101.75},"encoding":{"x":{"field":"sd","type":"nominal","axis":null},"y":{"datum":"A","type":"nominal","axis":null},"text":{"field":"edge","type":"nominal"}}},
{"transform":[{"filter":"datum.kind=='edge' && datum.edge==2"}],"mark":{"type":"text","text":"ρ =","font":"DejaVu Serif","fontSize":16,"color":"#111111","align":"right","baseline":"middle","angle":90,"xOffset":18,"yOffset":84.75},"encoding":{"x":{"field":"sd","type":"nominal","axis":null},"y":{"datum":"A","type":"nominal","axis":null}}},
{"transform":[{"filter":"datum.kind=='edge' && datum.edge==2"}],"mark":{"type":"text","font":"DejaVu Serif","fontSize":16,"fontWeight":"bold","color":"#111111","align":"left","baseline":"middle","angle":90,"xOffset":18,"yOffset":90.75},"encoding":{"x":{"field":"sd","type":"nominal","axis":null},"y":{"datum":"A","type":"nominal","axis":null},"text":{"field":"rho"}}},
{"transform":[{"filter":"datum.kind=='edge' && datum.edge==2"}],"mark":{"type":"point","shape":"M 1 0 C 1 0.387 0.552 0.7 0 0.7 C -0.552 0.7 -1 0.387 -1 0 C -1 -0.387 -0.552 -0.7 0 -0.7 C 0.552 -0.7 1 -0.387 1 0 Z","size":900,"filled":true,"opacity":1,"fill":"white","stroke":"#1d3344","strokeWidth":1.5,"xOffset":-19,"yOffset":100.75},"encoding":{"x":{"field":"sd","type":"nominal","axis":null},"y":{"datum":"A","type":"nominal","axis":null}}},
{"transform":[{"filter":"datum.kind=='edge' && datum.edge==2"}],"mark":{"type":"text","font":"Liberation Sans","fontSize":16.5,"color":"#1d3344","align":"center","baseline":"middle","xOffset":-19,"yOffset":101.75},"encoding":{"x":{"field":"sd","type":"nominal","axis":null},"y":{"datum":"A","type":"nominal","axis":null},"text":{"field":"edge","type":"nominal"}}}
]},

{"width":307,"height":311,"data":{"name":"diag"},"transform":[{"filter":"datum.panel=='f'"}],
"title":{"text":"(f)","orient":"bottom","font":"Liberation Serif","fontSize":17,"fontWeight":"normal","color":"#111111","offset":7},
"layer":[
{"transform":[{"filter":"datum.kind=='edge'"}],"mark":{"type":"rule","strokeWidth":1.6},"encoding":{"x":{"field":"sd","type":"nominal","scale":{"type":"point","domain":["D","ND"],"padding":0.1792},"axis":null},"x2":{"field":"td"},"y":{"field":"sa","type":"nominal","scale":{"type":"point","domain":["A","NA"],"padding":0.273},"axis":null},"y2":{"field":"ta"},"color":{"field":"tone","type":"nominal","scale":{"domain":["black","blue"],"range":["#111111","#2a6b89"]},"legend":null}}},
{"transform":[{"filter":"datum.kind=='node' && datum.tier=='top'"}],"mark":{"type":"point","shape":"M 1 0 C 1 0.502 0.552 0.909 0 0.909 C -0.552 0.909 -1 0.502 -1 0 C -1 -0.502 -0.552 -0.909 0 -0.909 C 0.552 -0.909 1 -0.502 1 0 Z","size":14641,"filled":true,"opacity":1,"fill":{"gradient":"linear","x1":0,"y1":0,"x2":0,"y2":1,"stops":[{"offset":0,"color":"#d3a8cb"},{"offset":1,"color":"#b97cb0"}]},"stroke":"#90378d","strokeWidth":1.2},"encoding":{"x":{"field":"d","type":"nominal","axis":null},"y":{"field":"a","type":"nominal","axis":null}}},
{"transform":[{"filter":"datum.kind=='node' && datum.tier=='mid'"}],"mark":{"type":"point","shape":"M 1 0 C 1 0.502 0.552 0.909 0 0.909 C -0.552 0.909 -1 0.502 -1 0 C -1 -0.502 -0.552 -0.909 0 -0.909 C 0.552 -0.909 1 -0.502 1 0 Z","size":14641,"filled":true,"opacity":1,"fill":{"gradient":"linear","x1":0,"y1":0,"x2":0,"y2":1,"stops":[{"offset":0,"color":"#acd89e"},{"offset":1,"color":"#86c476"}]},"stroke":"#62ac4b","strokeWidth":1.2},"encoding":{"x":{"field":"d","type":"nominal","axis":null},"y":{"field":"a","type":"nominal","axis":null}}},
{"transform":[{"filter":"datum.kind=='node' && datum.tier=='low'"}],"mark":{"type":"point","shape":"M 1 0 C 1 0.502 0.552 0.909 0 0.909 C -0.552 0.909 -1 0.502 -1 0 C -1 -0.502 -0.552 -0.909 0 -0.909 C 0.552 -0.909 1 -0.502 1 0 Z","size":14641,"filled":true,"opacity":1,"fill":"#a4d396","strokeWidth":0},"encoding":{"x":{"field":"d","type":"nominal","axis":null},"y":{"field":"a","type":"nominal","axis":null}}},
{"transform":[{"filter":"datum.kind=='node'"}],"mark":{"type":"text","font":"Liberation Sans","fontSize":16,"fontWeight":"bold","color":"#111111","baseline":"middle","yOffset":-11},"encoding":{"x":{"field":"d","type":"nominal","axis":null},"y":{"field":"a","type":"nominal","axis":null},"text":{"field":"state"}}},
{"transform":[{"filter":"datum.kind=='node'"}],"mark":{"type":"text","font":"Liberation Sans","fontSize":16,"fontWeight":"bold","color":"#111111","baseline":"middle","yOffset":12},"encoding":{"x":{"field":"d","type":"nominal","axis":null},"y":{"field":"a","type":"nominal","axis":null},"text":{"field":"pct","type":"quantitative","format":".2%"}}},
{"transform":[{"filter":"datum.kind=='edge' && datum.sd=='D' && datum.td=='ND'"}],"mark":{"type":"point","shape":"M -1.6 -1 L 0 0 L -1.6 1","size":121,"filled":true,"opacity":1,"strokeWidth":1.6,"xOffset":-61.5},"encoding":{"x":{"field":"td","type":"nominal","axis":null},"y":{"field":"ta","type":"nominal","axis":null},"stroke":{"field":"tone","type":"nominal","scale":{"domain":["black","blue"],"range":["#111111","#2a6b89"]},"legend":null},"fill":{"field":"tone","type":"nominal","scale":{"domain":["black","blue"],"range":["transparent","#2a6b89"]},"legend":null}}},
{"transform":[{"filter":"datum.kind=='edge' && datum.sd=='ND' && datum.td=='D'"}],"mark":{"type":"point","shape":"M 1.6 -1 L 0 0 L 1.6 1","size":121,"filled":true,"opacity":1,"strokeWidth":1.6,"xOffset":61.5},"encoding":{"x":{"field":"td","type":"nominal","axis":null},"y":{"field":"ta","type":"nominal","axis":null},"stroke":{"field":"tone","type":"nominal","legend":null},"fill":{"field":"tone","type":"nominal","legend":null}}},
{"transform":[{"filter":"datum.kind=='edge' && datum.sa=='A' && datum.ta=='NA'"}],"mark":{"type":"point","shape":"M -1 -1.6 L 0 0 L 1 -1.6","size":121,"filled":true,"opacity":1,"strokeWidth":1.6,"yOffset":-56},"encoding":{"x":{"field":"td","type":"nominal","axis":null},"y":{"field":"ta","type":"nominal","axis":null},"stroke":{"field":"tone","type":"nominal","legend":null},"fill":{"field":"tone","type":"nominal","legend":null}}},
{"transform":[{"filter":"datum.kind=='edge' && datum.sa=='NA' && datum.ta=='A'"}],"mark":{"type":"point","shape":"M -1 1.6 L 0 0 L 1 1.6","size":121,"filled":true,"opacity":1,"strokeWidth":1.6,"yOffset":56},"encoding":{"x":{"field":"td","type":"nominal","axis":null},"y":{"field":"ta","type":"nominal","axis":null},"stroke":{"field":"tone","type":"nominal","legend":null},"fill":{"field":"tone","type":"nominal","legend":null}}},
{"transform":[{"filter":"datum.kind=='edge' && datum.edge==3"}],"mark":{"type":"text","text":"ρ =","font":"DejaVu Serif","fontSize":16,"color":"#111111","align":"right","baseline":"middle","xOffset":97,"yOffset":-16},"encoding":{"x":{"datum":"D","type":"nominal","axis":null},"y":{"field":"sa","type":"nominal","axis":null}}},
{"transform":[{"filter":"datum.kind=='edge' && datum.edge==3"}],"mark":{"type":"text","font":"DejaVu Serif","fontSize":16,"fontWeight":"bold","color":"#111111","align":"left","baseline":"middle","xOffset":103,"yOffset":-16},"encoding":{"x":{"datum":"D","type":"nominal","axis":null},"y":{"field":"sa","type":"nominal","axis":null},"text":{"field":"rho"}}},
{"transform":[{"filter":"datum.kind=='edge' && datum.edge==3"}],"mark":{"type":"point","shape":"M 1 0 C 1 0.387 0.552 0.7 0 0.7 C -0.552 0.7 -1 0.387 -1 0 C -1 -0.387 -0.552 -0.7 0 -0.7 C 0.552 -0.7 1 -0.387 1 0 Z","size":900,"filled":true,"opacity":1,"fill":"white","stroke":"#1d3344","strokeWidth":1.5,"xOffset":113,"yOffset":18},"encoding":{"x":{"datum":"D","type":"nominal","axis":null},"y":{"field":"sa","type":"nominal","axis":null}}},
{"transform":[{"filter":"datum.kind=='edge' && datum.edge==3"}],"mark":{"type":"text","font":"Liberation Sans","fontSize":16.5,"color":"#1d3344","align":"center","baseline":"middle","xOffset":113,"yOffset":19},"encoding":{"x":{"datum":"D","type":"nominal","axis":null},"y":{"field":"sa","type":"nominal","axis":null},"text":{"field":"edge","type":"nominal"}}},
{"transform":[{"filter":"datum.kind=='edge' && datum.edge==4"}],"mark":{"type":"text","text":"ρ =","font":"DejaVu Serif","fontSize":16,"color":"#111111","align":"right","baseline":"middle","xOffset":97,"yOffset":12},"encoding":{"x":{"datum":"D","type":"nominal","axis":null},"y":{"field":"sa","type":"nominal","axis":null}}},
{"transform":[{"filter":"datum.kind=='edge' && datum.edge==4"}],"mark":{"type":"text","font":"DejaVu Serif","fontSize":16,"fontWeight":"bold","color":"#111111","align":"left","baseline":"middle","xOffset":103,"yOffset":12},"encoding":{"x":{"datum":"D","type":"nominal","axis":null},"y":{"field":"sa","type":"nominal","axis":null},"text":{"field":"rho"}}},
{"transform":[{"filter":"datum.kind=='edge' && datum.edge==4"}],"mark":{"type":"point","shape":"M 1 0 C 1 0.387 0.552 0.7 0 0.7 C -0.552 0.7 -1 0.387 -1 0 C -1 -0.387 -0.552 -0.7 0 -0.7 C 0.552 -0.7 1 -0.387 1 0 Z","size":900,"filled":true,"opacity":1,"fill":"white","stroke":"#1d3344","strokeWidth":1.5,"xOffset":113,"yOffset":-18},"encoding":{"x":{"datum":"D","type":"nominal","axis":null},"y":{"field":"sa","type":"nominal","axis":null}}},
{"transform":[{"filter":"datum.kind=='edge' && datum.edge==4"}],"mark":{"type":"text","font":"Liberation Sans","fontSize":16.5,"color":"#1d3344","align":"center","baseline":"middle","xOffset":113,"yOffset":-17},"encoding":{"x":{"datum":"D","type":"nominal","axis":null},"y":{"field":"sa","type":"nominal","axis":null},"text":{"field":"edge","type":"nominal"}}},
{"transform":[{"filter":"datum.kind=='edge' && datum.edge==1"}],"mark":{"type":"text","text":"ρ =","font":"DejaVu Serif","fontSize":16,"color":"#111111","align":"right","baseline":"middle","angle":270,"xOffset":-14,"yOffset":111.75},"encoding":{"x":{"field":"sd","type":"nominal","axis":null},"y":{"datum":"A","type":"nominal","axis":null}}},
{"transform":[{"filter":"datum.kind=='edge' && datum.edge==1"}],"mark":{"type":"text","font":"DejaVu Serif","fontSize":16,"fontWeight":"bold","color":"#111111","align":"left","baseline":"middle","angle":270,"xOffset":-14,"yOffset":107.75},"encoding":{"x":{"field":"sd","type":"nominal","axis":null},"y":{"datum":"A","type":"nominal","axis":null},"text":{"field":"rho"}}},
{"transform":[{"filter":"datum.kind=='edge' && datum.edge==1"}],"mark":{"type":"point","shape":"M 1 0 C 1 0.387 0.552 0.7 0 0.7 C -0.552 0.7 -1 0.387 -1 0 C -1 -0.387 -0.552 -0.7 0 -0.7 C 0.552 -0.7 1 -0.387 1 0 Z","size":900,"filled":true,"opacity":1,"fill":"white","stroke":"#1d3344","strokeWidth":1.5,"xOffset":17,"yOffset":100.75},"encoding":{"x":{"field":"sd","type":"nominal","axis":null},"y":{"datum":"A","type":"nominal","axis":null}}},
{"transform":[{"filter":"datum.kind=='edge' && datum.edge==1"}],"mark":{"type":"text","font":"Liberation Sans","fontSize":16.5,"color":"#1d3344","align":"center","baseline":"middle","xOffset":17,"yOffset":101.75},"encoding":{"x":{"field":"sd","type":"nominal","axis":null},"y":{"datum":"A","type":"nominal","axis":null},"text":{"field":"edge","type":"nominal"}}},
{"transform":[{"filter":"datum.kind=='edge' && datum.edge==2"}],"mark":{"type":"text","text":"ρ =","font":"DejaVu Serif","fontSize":16,"color":"#111111","align":"right","baseline":"middle","angle":90,"xOffset":18,"yOffset":84.75},"encoding":{"x":{"field":"sd","type":"nominal","axis":null},"y":{"datum":"A","type":"nominal","axis":null}}},
{"transform":[{"filter":"datum.kind=='edge' && datum.edge==2"}],"mark":{"type":"text","font":"DejaVu Serif","fontSize":16,"fontWeight":"bold","color":"#111111","align":"left","baseline":"middle","angle":90,"xOffset":18,"yOffset":90.75},"encoding":{"x":{"field":"sd","type":"nominal","axis":null},"y":{"datum":"A","type":"nominal","axis":null},"text":{"field":"rho"}}},
{"transform":[{"filter":"datum.kind=='edge' && datum.edge==2"}],"mark":{"type":"point","shape":"M 1 0 C 1 0.387 0.552 0.7 0 0.7 C -0.552 0.7 -1 0.387 -1 0 C -1 -0.387 -0.552 -0.7 0 -0.7 C 0.552 -0.7 1 -0.387 1 0 Z","size":900,"filled":true,"opacity":1,"fill":"white","stroke":"#1d3344","strokeWidth":1.5,"xOffset":-19,"yOffset":100.75},"encoding":{"x":{"field":"sd","type":"nominal","axis":null},"y":{"datum":"A","type":"nominal","axis":null}}},
{"transform":[{"filter":"datum.kind=='edge' && datum.edge==2"}],"mark":{"type":"text","font":"Liberation Sans","fontSize":16.5,"color":"#1d3344","align":"center","baseline":"middle","xOffset":-19,"yOffset":101.75},"encoding":{"x":{"field":"sd","type":"nominal","axis":null},"y":{"datum":"A","type":"nominal","axis":null},"text":{"field":"edge","type":"nominal"}}}
]}
]
}
